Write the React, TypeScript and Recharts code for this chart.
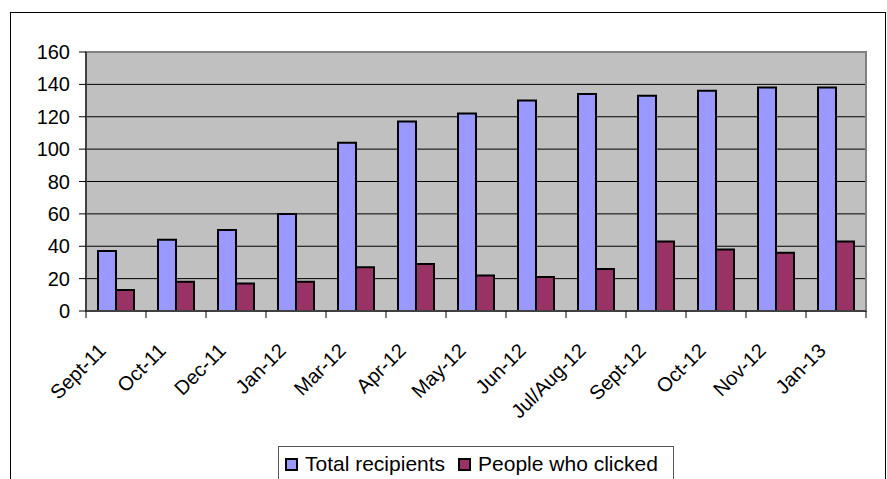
import React from 'react';
import {
  BarChart,
  Bar,
  XAxis,
  YAxis,
  CartesianGrid,
  Legend,
  ReferenceArea,
} from 'recharts';

const months = [
  'Sept-11', 'Oct-11', 'Dec-11', 'Jan-12', 'Mar-12', 'Apr-12', 'May-12',
  'Jun-12', 'Jul/Aug-12', 'Sept-12', 'Oct-12', 'Nov-12', 'Jan-13',
];
const totalRecipients = [37, 44, 50, 60, 104, 117, 122, 130, 134, 133, 136, 138, 138];
const peopleClicked = [13, 18, 17, 18, 27, 29, 22, 21, 26, 43, 38, 36, 43];
const yTicks = [0, 20, 40, 60, 80, 100, 120, 140, 160];

const BLUE = '#9999ff';
const PLUM = '#993366';
const FONT = '"Liberation Sans", Arial, Helvetica, sans-serif';

const data = months.map((m, i) => ({
  month: m,
  total: totalRecipients[i],
  clicked: peopleClicked[i],
}));

// ticks sit between categories, labels turned 45 degrees
const XTick = (props: any) => {
  const { x, y, payload, index, visibleTicksCount, width } = props;
  const half =
    typeof payload?.offset === 'number' && payload.offset > 0
      ? payload.offset
      : width / visibleTicksCount / 2;
  const last = index === visibleTicksCount - 1;
  const ax = x - 9;
  const ay = y + 41;
  return (
    <g>
      <line x1={x - half} x2={x - half} y1={y} y2={y + 7} stroke="#000" />
      {last && <line x1={x + half} x2={x + half} y1={y} y2={y + 7} stroke="#000" />}
      <text
        x={ax}
        y={ay}
        textAnchor="end"
        fontSize={20}
        fontFamily={FONT}
        fill="#000"
        transform={`rotate(-45, ${ax}, ${ay})`}
      >
        {payload.value}
      </text>
    </g>
  );
};

const LegendBox = () => (
  <div
    style={{
      boxSizing: 'border-box',
      width: '100%',
      height: '100%',
      border: '1px solid #555',
      background: '#fff',
      fontFamily: FONT,
      fontSize: 21,
      color: '#000',
      display: 'flex',
      alignItems: 'flex-start',
      paddingLeft: 6,
      paddingTop: 5,
    }}
  >
    {[
      { name: 'Total recipients', color: BLUE },
      { name: 'People who clicked', color: PLUM },
    ].map((it, i) => (
      <div key={i} style={{ display: 'flex', alignItems: 'center', marginRight: i === 0 ? 13 : 0 }}>
        <span
          style={{
            display: 'inline-block',
            boxSizing: 'border-box',
            width: 13,
            height: 13,
            background: it.color,
            border: '2px solid #000',
            marginRight: 7,
          }}
        />
        <span style={{ lineHeight: '24px' }}>{it.name}</span>
      </div>
    ))}
  </div>
);

export default function App() {
  return (
    <div
      style={{
        position: 'absolute',
        left: 0,
        top: 0,
        width: 887,
        height: 479,
        overflow: 'hidden',
        background: '#fff',
      }}
    >
      <div
        style={{
          position: 'absolute',
          left: 10,
          top: 12,
          width: 876,
          height: 520,
          border: '1px solid #000',
          boxSizing: 'border-box',
        }}
      />
      <div style={{ position: 'absolute', left: 0, top: 0 }}>
        <BarChart
          width={887}
          height={479}
          data={data}
          margin={{ top: 52, right: 21, left: 26, bottom: 68 }}
          barSize={18}
          barGap={0}
        >
          <CartesianGrid fill="#c0c0c0" stroke="#000" vertical={false} />
          <ReferenceArea y1={0} y2={160} fill="none" stroke="#808080" strokeWidth={2} />
          <XAxis
            dataKey="month"
            interval={0}
            height={100}
            tickSize={0}
            tickMargin={0}
            tickLine={false}
            axisLine={{ stroke: '#404040', strokeWidth: 2 }}
            tick={<XTick />}
          />
          <YAxis
            width={60}
            domain={[0, 160]}
            ticks={yTicks}
            interval={0}
            tickSize={7}
            tickMargin={9}
            tickLine={{ stroke: '#000' }}
            axisLine={{ stroke: '#404040', strokeWidth: 2 }}
            tick={{ fontSize: 20, fill: '#000', fontFamily: FONT }}
          />
          <Legend
            layout="horizontal"
            verticalAlign="middle"
            align="center"
            wrapperStyle={{ position: 'absolute', left: 278, top: 446, width: 396, height: 40 }}
            content={<LegendBox />}
          />
          <Bar dataKey="total" name="Total recipients" fill={BLUE} stroke="#000" strokeWidth={2} isAnimationActive={false} />
          <Bar dataKey="clicked" name="People who clicked" fill={PLUM} stroke="#000" strokeWidth={2} isAnimationActive={false} />
        </BarChart>
      </div>
    </div>
  );
}
